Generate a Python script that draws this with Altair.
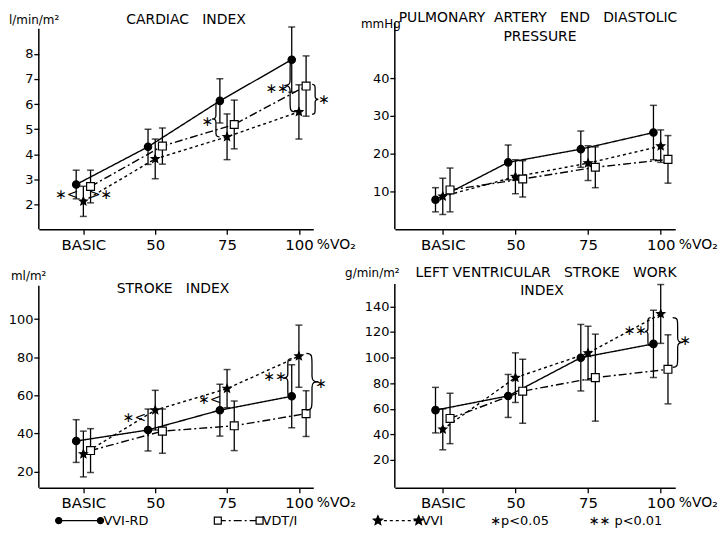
import altair as alt
import pandas as pd

FONT = "DejaVu Sans"
CATEGORIES = ["BASIC", "50", "75", "100"]
SERIES = ["VVI-RD", "VDT/I", "VVI"]

# Cardiac index (l/min/m2): mean and SD
CI_VVIRD = [2.80, 4.30, 6.13, 7.77]
CI_VVIRD_SD = [0.57, 0.70, 0.88, 1.30]
CI_VDTI = [2.72, 4.33, 5.19, 6.72]
CI_VDTI_SD = [0.65, 0.72, 0.97, 1.20]
CI_VVI = [2.13, 3.82, 4.70, 5.69]
CI_VVI_SD = [0.60, 0.79, 0.91, 1.08]

# Pulmonary artery end diastolic pressure (mmHg)
PA_VVIRD = [7.8, 17.7, 21.2, 25.6]
PA_VVIRD_SD = [3.2, 4.6, 4.8, 7.2]
PA_VDTI = [10.4, 13.3, 16.4, 18.5]
PA_VDTI_SD = [5.8, 4.8, 5.4, 6.3]
PA_VVI = [8.7, 13.9, 17.5, 22.0]
PA_VVI_SD = [4.8, 4.5, 4.6, 4.3]

# Stroke index (ml/m2)
SI_VVIRD = [36.0, 41.8, 52.2, 59.5]
SI_VVIRD_SD = [11.2, 11.0, 13.6, 16.5]
SI_VDTI = [31.0, 41.2, 44.0, 50.4]
SI_VDTI_SD = [11.5, 11.6, 13.0, 12.0]
SI_VVI = [29.2, 52.2, 63.5, 80.5]
SI_VVI_SD = [12.0, 10.4, 10.0, 16.3]

# Left ventricular stroke work index (g/min/m2)
LV_VVIRD = [58.9, 70.0, 99.9, 110.7]
LV_VVIRD_SD = [17.8, 16.8, 26.0, 26.3]
LV_VDTI = [52.4, 73.7, 84.3, 90.8]
LV_VDTI_SD = [19.7, 25.0, 34.0, 27.0]
LV_VVI = [43.9, 84.3, 103.5, 134.1]
LV_VVI_SD = [16.0, 19.4, 21.0, 23.0]

# Significance marks (text, category position, value)
CI_NOTE_T = ["∗<", ">∗", "∗", "∗∗", "∗"]
CI_NOTE_X = [-0.23, 0.24, 1.73, 2.70, 3.35]
CI_NOTE_Y = [2.37, 2.37, 5.30, 6.60, 6.17]
# Braces (side, category position, value at centre, span in px)
CI_BRACE_D = ["L", "L", "R"]
CI_BRACE_X = [1.84, 2.87, 3.23]
CI_BRACE_Y = [5.41, 6.74, 6.19]
CI_BRACE_H = [36, 53, 30]

SI_NOTE_T = ["∗<", "∗<", "∗∗", "∗"]
SI_NOTE_X = [0.71, 1.76, 2.67, 3.31]
SI_NOTE_Y = [48.0, 57.4, 69.4, 65.7]
SI_BRACE_D = ["L", "R"]
SI_BRACE_X = [2.84, 3.19]
SI_BRACE_Y = [69.1, 67.1]
SI_BRACE_H = [39, 57]

LV_NOTE_T = ["∗∗", "∗"]
LV_NOTE_X = [2.65, 3.34]
LV_NOTE_Y = [121.0, 113.3]
LV_BRACE_D = ["L", "R"]
LV_BRACE_X = [2.82, 3.24]
LV_BRACE_Y = [120.3, 111.8]
LV_BRACE_H = [28, 50]

STAR = ("M0,-1L0.265,-0.364L0.951,-0.309L0.428,0.139L0.588,0.809L0,0.45"
        "L-0.588,0.809L-0.428,0.139L-0.951,-0.309L-0.265,-0.364Z")
BRACE = {
    "L": ("M0.22,-1C0.02,-1 0.02,-0.92 0.02,-0.6L0.02,-0.2C0.02,-0.03 -0.06,0 -0.2,0"
          "C-0.06,0 0.02,0.03 0.02,0.2L0.02,0.6C0.02,0.92 0.02,1 0.22,1"),
    "R": ("M-0.22,-1C-0.02,-1 -0.02,-0.92 -0.02,-0.6L-0.02,-0.2C-0.02,-0.03 0.06,0 0.2,0"
          "C0.06,0 -0.02,0.03 -0.02,0.2L-0.02,0.6C-0.02,0.92 -0.02,1 -0.22,1"),
}
SHAPES = ["circle", "square", STAR]
FILLS = ["black", "white", "black"]
SIZES = [55, 70, 130]
DASHES = [[1, 0], [8, 3, 2, 3], [3, 3]]

H = 218
XMAX = 3.2


def make_df(groups):
    rows = []
    for s, (means, sds) in zip(SERIES, groups):
        for i, c in enumerate(CATEGORIES):
            rows.append({"category": c, "idx": i, "series": s, "mean": means[i], "sd": sds[i]})
    return pd.DataFrame(rows)


ONE = pd.DataFrame({"k": [0]})


def label(text, x, y, size=14, align="center"):
    return alt.Chart(ONE).mark_text(
        text=text, font=FONT, fontSize=size, align=align, baseline="middle", color="black"
    ).encode(x=alt.value(x), y=alt.value(y))


def panel(df, width, xmin, ydom, yticks, ytop, texts, notes=None, braces=None, extra=None):
    xs = alt.Scale(domain=[xmin, XMAX], nice=False, zero=False)
    ys = alt.Scale(domain=ydom, nice=False, zero=False)
    label_expr = "[" + ",".join("'%s'" % c for c in CATEGORIES) + "][datum.value]"
    xaxis = alt.Axis(values=list(range(len(CATEGORIES))), labelExpr=label_expr,
                     title="%VO₂", titleX=width + 3, titleY=15, titleAlign="left",
                     titleBaseline="middle", titleFontSize=14)
    yaxis = alt.Axis(values=yticks, title=None, domain=False)
    off = "(datum.series == 'VVI-RD' ? -0.1 : datum.series == 'VDT/I' ? 0.1 : 0)"
    base = alt.Chart(df).transform_calculate(
        xpos="datum.idx + " + off, lo="datum.mean - datum.sd", hi="datum.mean + datum.sd")
    X = alt.X("xpos:Q", scale=xs, axis=xaxis)

    def Y(f):
        return alt.Y(f, scale=ys, axis=yaxis)

    yline = alt.Chart(ONE).transform_calculate(
        y0=str(ydom[0]), y1=str(ytop)
    ).mark_rule(color="black", strokeWidth=1.5).encode(
        x=alt.value(0), y=Y("y0:Q"), y2="y1:Q")
    lines = base.mark_line(color="black", strokeWidth=1.4).encode(
        x=X, y=Y("mean:Q"),
        strokeDash=alt.StrokeDash("series:N", scale=alt.Scale(domain=SERIES, range=DASHES), legend=None),
        detail="series:N", order="idx:Q")
    bars = base.mark_rule(color="black", strokeWidth=1.3).encode(
        x=X, y=Y("lo:Q"), y2="hi:Q")
    cap_hi = base.mark_tick(color="black", orient="horizontal", size=7, thickness=1.5).encode(
        x=X, y=Y("hi:Q"))
    cap_lo = base.mark_tick(color="black", orient="horizontal", size=7, thickness=1.5).encode(
        x=X, y=Y("lo:Q"))
    pts = base.mark_point(stroke="black", strokeWidth=1.2, opacity=1, fillOpacity=1).encode(
        x=X, y=Y("mean:Q"),
        shape=alt.Shape("series:N", scale=alt.Scale(domain=SERIES, range=SHAPES), legend=None),
        fill=alt.Fill("series:N", scale=alt.Scale(domain=SERIES, range=FILLS), legend=None),
        size=alt.Size("series:N", scale=alt.Scale(domain=SERIES, range=SIZES), legend=None))
    layers = [yline, lines, bars, cap_hi, cap_lo, pts]
    if notes is not None:
        t, x, y = notes
        ndf = pd.DataFrame({"t": t, "ax": x, "ay": y})
        layers.append(alt.Chart(ndf).mark_text(font=FONT, fontSize=14, color="black",
                                               baseline="middle", align="center").encode(
            x=alt.X("ax:Q", scale=xs, axis=xaxis), y=alt.Y("ay:Q", scale=ys, axis=yaxis),
            text="t:N"))
    if braces is not None:
        d, x, y, h = braces
        bdf = pd.DataFrame({"d": d, "bx": x, "by": y, "bh": h})
        for side in ("L", "R"):
            sub = bdf[bdf["d"] == side]
            if len(sub) == 0:
                continue
            layers.append(alt.Chart(sub).transform_calculate(area="datum.bh * datum.bh").mark_point(
                shape=BRACE[side], filled=False, stroke="black", strokeWidth=1.3, opacity=1).encode(
                x=alt.X("bx:Q", scale=xs, axis=xaxis), y=alt.Y("by:Q", scale=ys, axis=yaxis),
                size=alt.Size("area:Q", scale=None, legend=None)))
    layers += texts
    if extra:
        layers += extra
    return alt.layer(*layers).properties(width=width, height=H)


ci = make_df([(CI_VVIRD, CI_VVIRD_SD), (CI_VDTI, CI_VDTI_SD), (CI_VVI, CI_VVI_SD)])
pa = make_df([(PA_VVIRD, PA_VVIRD_SD), (PA_VDTI, PA_VDTI_SD), (PA_VVI, PA_VVI_SD)])
si = make_df([(SI_VVIRD, SI_VVIRD_SD), (SI_VDTI, SI_VDTI_SD), (SI_VVI, SI_VVI_SD)])
lv = make_df([(LV_VVIRD, LV_VVIRD_SD), (LV_VDTI, LV_VDTI_SD), (LV_VVI, LV_VVI_SD)])

LW, RW = 276, 282

p1 = panel(ci, LW, -0.62, [1.02, 9.65], [2, 3, 4, 5, 6, 7, 8], 9.0,
           [label("CARDIAC\u00a0\u00a0\u00a0INDEX", 148, 8),
            label("l/min/m²", -30, 8, 12, "left")],
           (CI_NOTE_T, CI_NOTE_X, CI_NOTE_Y), (CI_BRACE_D, CI_BRACE_X, CI_BRACE_Y, CI_BRACE_H))
p2 = panel(pa, RW, -0.66, [0, 57.4], [10, 20, 30, 40], 54.7,
           [label("PULMONARY\u00a0\u00a0ARTERY\u00a0\u00a0\u00a0END\u00a0\u00a0\u00a0DIASTOLIC", 144, 6),
            label("PRESSURE", 146, 25),
            label("mmHg", -34, 12, 12, "left")])


def legend_layers():
    ly = 251
    out = []
    items = [(20, 62, 0), (180, 222, 1), (341, 382, 2)]
    for x1, x2, k in items:
        out.append(alt.Chart(ONE).mark_rule(color="black", strokeWidth=1.4, strokeDash=DASHES[k]).encode(
            x=alt.value(x1), x2=alt.value(x2), y=alt.value(ly)))
        for xx in (x1, x2):
            out.append(alt.Chart(ONE).mark_point(shape=SHAPES[k], fill=FILLS[k], stroke="black",
                                                 strokeWidth=1.2, opacity=1, fillOpacity=1,
                                                 size=SIZES[k] * 0.7).encode(
                x=alt.value(xx), y=alt.value(ly)))
        out.append(label(SERIES[k], x2 + 3, ly, 13, "left"))
    out.append(label("∗p<0.05", 454, ly, 13, "left"))
    out.append(label("∗∗ p<0.01", 553, ly, 13, "left"))
    return out


p3 = panel(si, LW, -0.62, [11.5, 125.2], [20, 40, 60, 80, 100], 117.4,
           [label("STROKE\u00a0\u00a0\u00a0INDEX", 135, 18),
            label("ml/m²", -28, 5, 12, "left")],
           (SI_NOTE_T, SI_NOTE_X, SI_NOTE_Y), (SI_BRACE_D, SI_BRACE_X, SI_BRACE_Y, SI_BRACE_H),
           legend_layers())
p4 = panel(lv, RW, -0.66, [-1.8, 167.7], [20, 40, 60, 80, 100, 120, 140], 157.6,
           [label("LEFT\u00a0VENTRICULAR\u00a0\u00a0\u00a0STROKE\u00a0\u00a0\u00a0WORK", 152, 2),
            label("INDEX", 148, 20),
            label("g/min/m²", -50, 2, 12, "left")],
           (LV_NOTE_T, LV_NOTE_X, LV_NOTE_Y), (LV_BRACE_D, LV_BRACE_X, LV_BRACE_Y, LV_BRACE_H))

chart = alt.concat(
    p1, p2, p3, p4, columns=2, bounds="flush", align="each",
    spacing=alt.RowColnumber(column=82, row=42)
).properties(
    padding={"left": 0, "top": 2, "right": 0, "bottom": 0}
).configure_view(stroke=None).configure_axis(
    labelFont=FONT, titleFont=FONT, labelColor="black", titleColor="black",
    tickColor="black", domainColor="black", grid=False, titleFontWeight="normal",
    labelFontSize=13, domainWidth=1.5, tickWidth=1.3, tickSize=5, labelPadding=1
).configure_axisX(labelFontSize=15, labelPadding=3)

chart.save("out.html", embed_options={"renderer": "svg", "actions": False})
